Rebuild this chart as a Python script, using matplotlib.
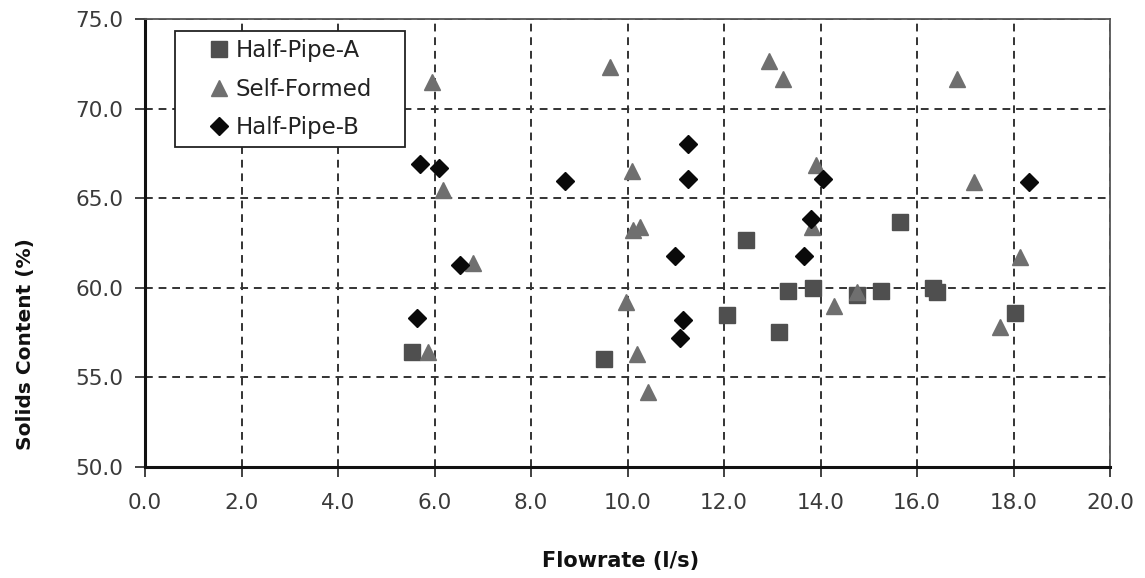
import numpy as np
import matplotlib
matplotlib.use("Agg")
import matplotlib.pyplot as plt
from matplotlib.patches import Rectangle

# Half-Pipe-A (squares)
hp_a_x = [5.53, 9.51, 12.06, 12.46, 13.15, 13.33, 13.84, 14.75, 15.25, 15.65, 16.34, 16.41, 18.03]
hp_a_y = [56.43, 56.01, 58.48, 62.67, 57.55, 59.82, 59.97, 59.60, 59.82, 63.69, 59.97, 59.78, 58.58]

# Self-Formed (triangles)
sf_x = [5.94, 9.64, 12.93, 13.23, 16.82, 10.09, 13.91, 17.18, 6.18, 10.11, 10.25, 13.82,
        6.80, 18.13, 9.97, 14.27, 14.76, 17.73, 5.87, 10.20, 10.43]
sf_y = [71.50, 72.34, 72.66, 71.63, 71.63, 66.50, 66.85, 65.92, 65.46, 63.20, 63.40, 63.41,
        61.37, 61.74, 59.22, 58.98, 59.78, 57.83, 56.43, 56.30, 54.17]

# Half-Pipe-B (diamonds)
hp_b_x = [5.70, 6.10, 8.70, 11.26, 11.26, 14.06, 18.33, 13.80, 6.53, 5.63, 10.98, 13.66, 11.14, 11.09]
hp_b_y = [66.89, 66.70, 65.96, 68.00, 66.07, 66.07, 65.89, 63.82, 61.27, 58.30, 61.77, 61.77, 58.20, 57.18]

x_ticks = np.arange(0, 20.1, 2)
y_ticks = np.arange(50, 75.1, 5)

fig = plt.figure(figsize=(11.45, 5.78), dpi=100)
ax = fig.add_axes([145 / 1145, 1 - 467 / 578, 965 / 1145, 448 / 578])

ax.plot(hp_a_x, hp_a_y, linestyle="none", marker="s", markersize=11,
        color="#4f4f4f", label="Half-Pipe-A", zorder=3)
ax.plot(sf_x, sf_y, linestyle="none", marker="^", markersize=12,
        color="#6f6f6f", label="Self-Formed", zorder=3)
ax.plot(hp_b_x, hp_b_y, linestyle="none", marker="D", markersize=9,
        color="#0a0a0a", label="Half-Pipe-B", zorder=4)

ax.set_xlim(0, 20)
ax.set_ylim(50, 75)
ax.set_xticks(x_ticks)
ax.set_yticks(y_ticks)
ax.set_xticklabels([f"{v:.1f}" for v in x_ticks], fontsize=15.5)
ax.set_yticklabels([f"{v:.1f}" for v in y_ticks], fontsize=15.5)
ax.tick_params(axis="both", direction="out", length=7.5, width=1.2, colors="#222222",
               labelcolor="#3a3a3a")
ax.tick_params(axis="x", pad=11)
ax.tick_params(axis="y", pad=8)

ax.grid(True, linestyle=(0, (4, 3)), color="#333333", linewidth=1.4)
ax.set_axisbelow(True)

for side in ["left", "bottom"]:
    ax.spines[side].set_linewidth(2.2)
    ax.spines[side].set_color("#111111")
for side in ["top", "right"]:
    ax.spines[side].set_linewidth(1.3)
    ax.spines[side].set_color("#555555")

ax.set_xlabel("Flowrate (l/s)", fontsize=15, fontweight="bold", color="#111111")
ax.xaxis.set_label_coords((621 - 145) / 965, (467 - 551) / 448)
ax.set_ylabel("Solids Content (%)", fontsize=14.5, fontweight="bold", color="#111111")
ax.yaxis.set_label_coords((35 - 145) / 965, (467 - 344) / 448)

# legend box (Excel style, generous padding)
box = Rectangle((30 / 965, (467 - 147) / 448), 230 / 965, 116 / 448,
                transform=ax.transAxes, facecolor="white", edgecolor="#222222",
                linewidth=1.3, zorder=5)
ax.add_patch(box)
leg = ax.legend(loc="upper left", bbox_to_anchor=(63 / 965, (467 - 39) / 448),
                borderaxespad=0, borderpad=0, frameon=False,
                fontsize=16.5, handletextpad=0.2, handlelength=1.0,
                labelspacing=0.68, markerscale=1.0)
leg.set_zorder(6)
for t in leg.get_texts():
    t.set_color("#222222")

fig.savefig("out.png", dpi=100)
